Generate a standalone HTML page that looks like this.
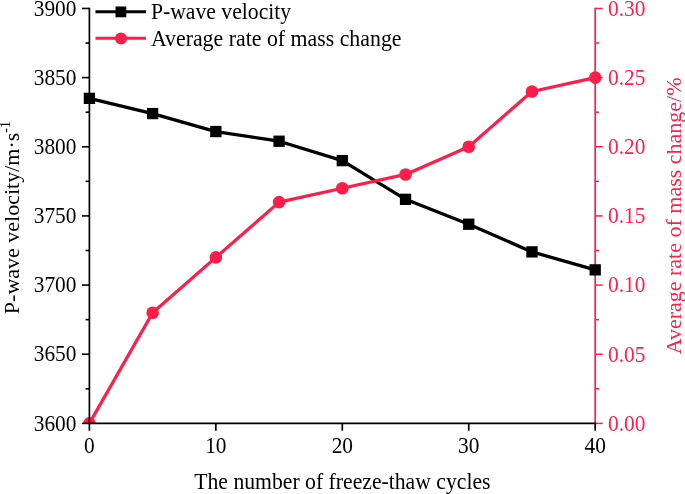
<!DOCTYPE html>
<html><head><meta charset="utf-8"><style>
html,body{margin:0;padding:0;background:#fff;}
body{width:685px;height:494px;overflow:hidden;}
svg{display:block;font-family:"Liberation Serif",serif;will-change:transform;}
</style></head><body>
<svg width="685" height="494" viewBox="0 0 685 494">
<rect width="685" height="494" fill="#fff"/>
<defs><clipPath id="c"><rect x="0" y="0" width="685" height="423.40"/></clipPath></defs>
<line x1="595.20" y1="7.65" x2="595.20" y2="423.40" stroke="#FF1E4A" stroke-width="1.70"/>
<line x1="595.20" y1="423.40" x2="602.70" y2="423.40" stroke="#FF1E4A" stroke-width="1.5"/>
<text transform="translate(608,430.70) scale(0.97,1.070)" font-size="22" fill="#FF1E4A">0.00</text>
<line x1="595.20" y1="354.24" x2="602.70" y2="354.24" stroke="#FF1E4A" stroke-width="1.5"/>
<text transform="translate(608,361.54) scale(0.97,1.070)" font-size="22" fill="#FF1E4A">0.05</text>
<line x1="595.20" y1="285.08" x2="602.70" y2="285.08" stroke="#FF1E4A" stroke-width="1.5"/>
<text transform="translate(608,292.38) scale(0.97,1.070)" font-size="22" fill="#FF1E4A">0.10</text>
<line x1="595.20" y1="215.92" x2="602.70" y2="215.92" stroke="#FF1E4A" stroke-width="1.5"/>
<text transform="translate(608,223.22) scale(0.97,1.070)" font-size="22" fill="#FF1E4A">0.15</text>
<line x1="595.20" y1="146.77" x2="602.70" y2="146.77" stroke="#FF1E4A" stroke-width="1.5"/>
<text transform="translate(608,154.07) scale(0.97,1.070)" font-size="22" fill="#FF1E4A">0.20</text>
<line x1="595.20" y1="77.61" x2="602.70" y2="77.61" stroke="#FF1E4A" stroke-width="1.5"/>
<text transform="translate(608,84.91) scale(0.97,1.070)" font-size="22" fill="#FF1E4A">0.25</text>
<line x1="595.20" y1="8.45" x2="602.70" y2="8.45" stroke="#FF1E4A" stroke-width="1.5"/>
<text transform="translate(608,15.75) scale(0.97,1.070)" font-size="22" fill="#FF1E4A">0.30</text>
<line x1="595.20" y1="388.82" x2="599.00" y2="388.82" stroke="#FF1E4A" stroke-width="1.5"/>
<line x1="595.20" y1="319.66" x2="599.00" y2="319.66" stroke="#FF1E4A" stroke-width="1.5"/>
<line x1="595.20" y1="250.50" x2="599.00" y2="250.50" stroke="#FF1E4A" stroke-width="1.5"/>
<line x1="595.20" y1="181.35" x2="599.00" y2="181.35" stroke="#FF1E4A" stroke-width="1.5"/>
<line x1="595.20" y1="112.19" x2="599.00" y2="112.19" stroke="#FF1E4A" stroke-width="1.5"/>
<line x1="595.20" y1="43.03" x2="599.00" y2="43.03" stroke="#FF1E4A" stroke-width="1.5"/>
<g clip-path="url(#c)">
<polyline points="89.40,98.36 152.62,113.57 215.85,131.55 279.08,141.23 342.30,160.60 405.53,199.33 468.75,224.22 531.98,251.89 595.20,269.87" fill="none" stroke="#000" stroke-width="3.30" stroke-linejoin="round"/>
<rect x="83.75" y="92.71" width="11.3" height="11.3" fill="#000"/>
<rect x="146.97" y="107.92" width="11.3" height="11.3" fill="#000"/>
<rect x="210.20" y="125.90" width="11.3" height="11.3" fill="#000"/>
<rect x="273.43" y="135.58" width="11.3" height="11.3" fill="#000"/>
<rect x="336.65" y="154.95" width="11.3" height="11.3" fill="#000"/>
<rect x="399.88" y="193.68" width="11.3" height="11.3" fill="#000"/>
<rect x="463.10" y="218.57" width="11.3" height="11.3" fill="#000"/>
<rect x="526.33" y="246.24" width="11.3" height="11.3" fill="#000"/>
<rect x="589.55" y="264.22" width="11.3" height="11.3" fill="#000"/>
<polyline points="89.40,423.40 152.62,312.75 215.85,257.42 279.08,202.09 342.30,188.26 405.53,174.43 468.75,146.77 531.98,91.44 595.20,77.61" fill="none" stroke="#FF1E4A" stroke-width="3.20" stroke-linejoin="round"/>
<circle cx="89.40" cy="423.40" r="6.3" fill="#FF1E4A"/>
<circle cx="152.62" cy="312.75" r="6.3" fill="#FF1E4A"/>
<circle cx="215.85" cy="257.42" r="6.3" fill="#FF1E4A"/>
<circle cx="279.08" cy="202.09" r="6.3" fill="#FF1E4A"/>
<circle cx="342.30" cy="188.26" r="6.3" fill="#FF1E4A"/>
<circle cx="405.53" cy="174.43" r="6.3" fill="#FF1E4A"/>
<circle cx="468.75" cy="146.77" r="6.3" fill="#FF1E4A"/>
<circle cx="531.98" cy="91.44" r="6.3" fill="#FF1E4A"/>
<circle cx="595.20" cy="77.61" r="6.3" fill="#FF1E4A"/>
</g>
<line x1="89.40" y1="7.65" x2="89.40" y2="424.20" stroke="#000" stroke-width="1.70"/>
<line x1="82.00" y1="423.40" x2="89.40" y2="423.40" stroke="#000" stroke-width="1.6"/>
<text transform="translate(76.4,430.50) scale(0.97,1.070)" text-anchor="end" font-size="22">3600</text>
<line x1="82.00" y1="354.24" x2="89.40" y2="354.24" stroke="#000" stroke-width="1.6"/>
<text transform="translate(76.4,361.34) scale(0.97,1.070)" text-anchor="end" font-size="22">3650</text>
<line x1="82.00" y1="285.08" x2="89.40" y2="285.08" stroke="#000" stroke-width="1.6"/>
<text transform="translate(76.4,292.18) scale(0.97,1.070)" text-anchor="end" font-size="22">3700</text>
<line x1="82.00" y1="215.92" x2="89.40" y2="215.92" stroke="#000" stroke-width="1.6"/>
<text transform="translate(76.4,223.02) scale(0.97,1.070)" text-anchor="end" font-size="22">3750</text>
<line x1="82.00" y1="146.77" x2="89.40" y2="146.77" stroke="#000" stroke-width="1.6"/>
<text transform="translate(76.4,153.87) scale(0.97,1.070)" text-anchor="end" font-size="22">3800</text>
<line x1="82.00" y1="77.61" x2="89.40" y2="77.61" stroke="#000" stroke-width="1.6"/>
<text transform="translate(76.4,84.71) scale(0.97,1.070)" text-anchor="end" font-size="22">3850</text>
<line x1="82.00" y1="8.45" x2="89.40" y2="8.45" stroke="#000" stroke-width="1.6"/>
<text transform="translate(76.4,15.55) scale(0.97,1.070)" text-anchor="end" font-size="22">3900</text>
<line x1="85.60" y1="388.82" x2="89.40" y2="388.82" stroke="#000" stroke-width="1.6"/>
<line x1="85.60" y1="319.66" x2="89.40" y2="319.66" stroke="#000" stroke-width="1.6"/>
<line x1="85.60" y1="250.50" x2="89.40" y2="250.50" stroke="#000" stroke-width="1.6"/>
<line x1="85.60" y1="181.35" x2="89.40" y2="181.35" stroke="#000" stroke-width="1.6"/>
<line x1="85.60" y1="112.19" x2="89.40" y2="112.19" stroke="#000" stroke-width="1.6"/>
<line x1="85.60" y1="43.03" x2="89.40" y2="43.03" stroke="#000" stroke-width="1.6"/>
<line x1="89.40" y1="423.40" x2="596.20" y2="423.40" stroke="#000" stroke-width="1.70"/>
<line x1="89.40" y1="423.40" x2="89.40" y2="430.70" stroke="#000" stroke-width="1.7"/>
<text transform="translate(89.40,452.6) scale(0.97,1.070)" text-anchor="middle" font-size="22">0</text>
<line x1="215.85" y1="423.40" x2="215.85" y2="430.70" stroke="#000" stroke-width="1.7"/>
<text transform="translate(215.85,452.6) scale(0.97,1.070)" text-anchor="middle" font-size="22">10</text>
<line x1="342.30" y1="423.40" x2="342.30" y2="430.70" stroke="#000" stroke-width="1.7"/>
<text transform="translate(342.30,452.6) scale(0.97,1.070)" text-anchor="middle" font-size="22">20</text>
<line x1="468.75" y1="423.40" x2="468.75" y2="430.70" stroke="#000" stroke-width="1.7"/>
<text transform="translate(468.75,452.6) scale(0.97,1.070)" text-anchor="middle" font-size="22">30</text>
<line x1="595.20" y1="423.40" x2="595.20" y2="430.70" stroke="#000" stroke-width="1.7"/>
<text transform="translate(595.20,452.6) scale(0.97,1.070)" text-anchor="middle" font-size="22">40</text>
<text transform="translate(342.4,488.6) scale(1,1.04)" text-anchor="middle" font-size="21.7">The number of freeze-thaw cycles</text>
<text transform="translate(19.2,217.6) rotate(-90)" text-anchor="middle" font-size="22">P-wave velocity/m·s<tspan dy="-9.3" font-size="14">-1</tspan></text>
<text transform="translate(680.7,215.9) rotate(-90)" text-anchor="middle" font-size="22" fill="#FF1E4A">Average rate of mass change/%</text>
<line x1="95.5" y1="11.7" x2="146" y2="11.7" stroke="#000" stroke-width="3"/>
<rect x="115.5" y="6.5" width="10.8" height="10.8" fill="#000"/>
<text transform="translate(150.9,19.0) scale(0.986,1.04)" font-size="22">P-wave velocity</text>
<line x1="95.5" y1="38.2" x2="146" y2="38.2" stroke="#FF1E4A" stroke-width="3"/>
<circle cx="121" cy="38.4" r="6" fill="#FF1E4A"/>
<text transform="translate(150.9,45.6) scale(0.993,1.04)" font-size="22">Average rate of mass change</text>
</svg>
</body></html>
